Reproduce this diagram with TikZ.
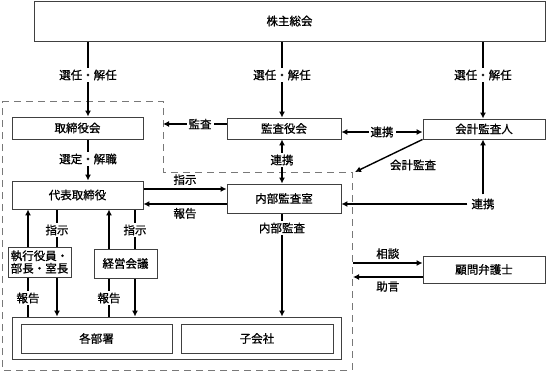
\documentclass[tikz,border=0pt]{standalone}
\usepackage{fontspec}
\setmainfont{Noto Sans CJK JP}[FakeBold=0.8]
\usetikzlibrary{arrows.meta,backgrounds}
\definecolor{boxgray}{RGB}{64,64,64}
\definecolor{dashgray}{RGB}{120,120,120}
\tikzset{
  orgbox/.style={draw=boxgray, line width=0.9pt, fill=white, inner sep=1pt, align=center},
  lbl/.style={fill=white, inner sep=2pt},
  arr/.style={line width=1.4pt, -{Latex[length=6pt,width=6pt]}},
  arrs/.style={line width=1.4pt, {Latex[length=6pt,width=6pt]}-{Latex[length=6pt,width=6pt]}}
}

\begin{document}
\begin{tikzpicture}[x=1pt,y=-1pt,font=\fontsize{11.5}{13.5}\selectfont]
  \useasboundingbox (0,0) rectangle (546,372);

  % boxes
  \node[orgbox, minimum width=511, minimum height=40] (soukai) at (289.5,21) {株主総会};
  \node[orgbox, minimum width=131, minimum height=22] (torishimari) at (77.5,128) {取締役会};
  \node[orgbox, minimum width=114, minimum height=21] (kansayaku) at (284,128.5) {監査役会};
  \node[orgbox, minimum width=122, minimum height=20] (kaikei) at (484,129) {会計監査人};
  \node[orgbox, minimum width=131, minimum height=28] (daihyo) at (77.5,195) {代表取締役};
  \node[orgbox, minimum width=114, minimum height=29] (naibu) at (284,198.5) {内部監査室};
  \node[orgbox, minimum width=122, minimum height=27] (komon) at (484,269.5) {顧問弁護士};
  \node[orgbox, minimum width=63, minimum height=30, inner sep=0pt,
        font=\fontsize{11.5}{12.5}\selectfont] (shikko) at (39.5,262) {執行役員・\\部長・室長};
  \node[orgbox, minimum width=63, minimum height=29] (keiei) at (125.5,263.5) {経営会議};
  \node[orgbox, minimum width=329, minimum height=42] (group) at (176.5,338) {};
  \node[orgbox, minimum width=151, minimum height=29] (kakubu) at (96.5,338.5) {各部署};
  \node[orgbox, minimum width=152, minimum height=29] (kogaisha) at (257,338.5) {子会社};

  % labels
  \node[lbl] (senninA) at (88,75) {選任・解任};
  \node[lbl] (senninB) at (282,75) {選任・解任};
  \node[lbl] (senninC) at (483,75) {選任・解任};
  \node[lbl] (kansa) at (200,124) {監査};
  \node[lbl] (renkeiA) at (382,132) {連携};
  \node[lbl] (sentei) at (88,159) {選定・解職};
  \node[lbl] (renkeiB) at (282,160) {連携};
  \node (kaikeikansa) at (413,165) {会計監査};
  \node[lbl, inner sep=4pt] (renkeiC) at (483,204) {連携};
  \node[lbl] (naibukansa) at (282,228) {内部監査};
  \node[lbl] (shijiB) at (57,230) {指示};
  \node[lbl] (shijiC) at (135,230) {指示};
  \node[lbl] (hokokuA) at (28,298) {報告};
  \node[lbl] (hokokuB) at (109,298) {報告};
  \coordinate (kansaend) at (163,124);
  \coordinate (kaikeiend) at (355,172);
  \coordinate (shijiline) at (185,189);
  \coordinate (hokokuline) at (185,204);
  \coordinate (soudanline) at (353,263);
  \coordinate (jogenline) at (353,277);

  \begin{scope}[on background layer]
    % board area
    \draw[dashgray, line width=0.8pt, dash pattern=on 7pt off 5pt]
      (2,101) -- (163,101) -- (163,172) -- (352,172) -- (352,370) -- (2,370) -- cycle;
    \draw[arr] (soukai.south -| senninA) -- (torishimari.north -| senninA);
    \draw[arr] (soukai.south -| senninB) -- (kansayaku.north -| senninB);
    \draw[arr] (soukai.south -| senninC) -- (kaikei.north -| senninC);
    \draw[arr] (kansayaku.west |- kansa) -- (kansaend);
    \draw[arrs] (kansayaku.east |- renkeiA) -- (kaikei.west |- renkeiA);
    \draw[arr] (torishimari.south -| sentei) -- (daihyo.north -| sentei);
    \draw[arrs] (kansayaku.south -| renkeiB) -- (naibu.north -| renkeiB);
    \draw[arr] (kaikei.south west) -- (kaikeiend);
    \draw[arr] (renkeiC) -- (kaikei.south -| renkeiC);
    \draw[arr] (renkeiC) -- (naibu.east |- renkeiC);
    \draw[arr] (daihyo.east |- shijiline) -- (naibu.west |- shijiline)
      node[midway, above] {指示};
    \draw[arr] (naibu.west |- hokokuline) -- (daihyo.east |- hokokuline)
      node[midway, below] {報告};
    \draw[arr] (naibu.south -| naibukansa) -- (group.north -| naibukansa);
    \draw[arr] (group.north -| hokokuA) -- (daihyo.south -| hokokuA);
    \draw[arr] (daihyo.south -| shijiB) -- (group.north -| shijiB);
    \draw[arr] (group.north -| hokokuB) -- (daihyo.south -| hokokuB);
    \draw[arr] (daihyo.south -| shijiC) -- (group.north -| shijiC);
    \draw[arr] (soudanline) -- (komon.west |- soudanline)
      node[midway, above] {相談};
    \draw[arr] (komon.west |- jogenline) -- (jogenline)
      node[midway, below] {助言};
  \end{scope}
\end{tikzpicture}
\end{document}
